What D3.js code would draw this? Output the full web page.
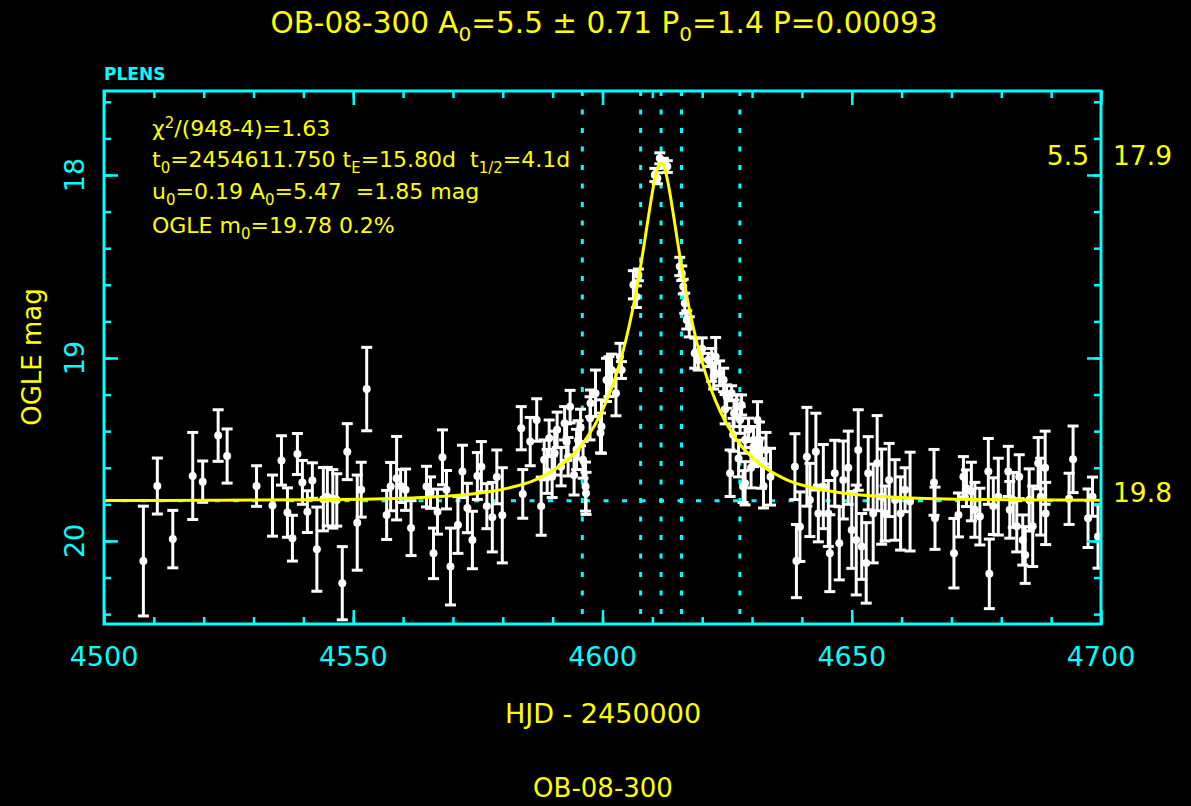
<!DOCTYPE html>
<html><head><meta charset="utf-8">
<script src="https://cdn.jsdelivr.net/npm/d3@7"></script>
<style>body{margin:0;background:#000;} svg{display:block;}</style>
</head><body><svg id="c" width="1191" height="806"></svg>
<script>
// ---- data ----
const hjd = [4507.9,4510.7,4513.8,4517.8,4519.8,4522.9,4524.7,4530.6,4533.8,4535.6,
4536.8,4537.8,4538.8,4539.8,4540.8,4541.8,4542.7,4544.0,4544.8,4545.9,4546.7,4547.8,4548.8,4550.8,4551.6,4552.7,
4556.7,4557.5,4558.7,4559.5,4560.5,4561.6,4564.7,4565.5,4566.1,4566.9,4567.9,4568.7,4569.5,
4571.0,4571.9,4572.9,4573.9,4574.9,4575.7,4576.8,4577.9,4578.8,4579.9,4583.7,4584.0,4585.5,4586.8,4587.7,4588.3,
4589.3,4589.9,4590.9,4591.7,4592.4,4593.1,4593.5,4594.3,4595.1,4596.6,4597.6,4598.6,4599.6,4601.3,
4596.1,4596.7,4597.5,4599.8,4600.8,4601.8,4602.7,4603.5,4603.8,4606.2,4606.8,4607.2,
4610.5,4611.0,4611.5,4612.2,4613.0,4615.5,4615.9,4616.2,4616.5,4616.9,4617.4,4618.5,4619.2,
4621.2,4621.9,4622.7,4623.5,4624.3,4624.9,4625.6,4625.9,4626.4,4626.9,4627.6,4628.2,4628.6,4629.3,4630.3,4630.9,
4627.9,4628.6,4630.3,4631.1,4631.9,4632.8,4633.7,4638.6,4638.9,4639.6,4641.0,4641.6,4642.8,4643.3,4644.3,
4645.3,4645.6,4646.6,4647.5,4648.3,4649.3,4650.0,4650.9,4651.3,4652.0,4652.9,4653.3,4654.3,4655.1,4656.0,
4656.7,4657.5,4658.7,4659.8,4660.7,4661.7,4666.5,4666.7,4670.5,4671.4,4672.4,4673.0,4674.0,4674.7,4675.7,
4677.4,4677.6,4678.4,4679.4,4681.4,4681.7,4682.4,4683.1,4683.6,4684.3,4684.8,4685.6,4686.3,4687.4,4687.9,
4688.8,4688.9,4693.6,4694.4,4697.4,4698.3,4699.4,
4620.0,4622.3,4624.6,4626.2,4627.3,4629.8,4631.5,4632.3,4595.6,4594.8,4592.8,4590.4,4588.9];
const mag = [20.11,19.70,19.99,19.645,19.676,19.424,19.536,19.70,19.807,19.56,
19.845,19.985,19.525,19.68,19.84,19.67,20.045,19.772,19.758,19.77,19.776,20.231,19.512,19.90,19.72,19.17,
19.858,19.703,19.657,19.70,19.72,19.93,19.703,19.736,20.068,19.84,19.543,19.72,20.14,
19.913,19.62,19.82,19.995,19.645,19.594,19.81,19.87,19.65,19.86,19.384,19.743,19.457,19.339,19.81,19.557,
19.439,19.649,19.393,19.594,19.357,19.54,19.266,19.64,19.448,19.703,19.248,19.193,19.41,19.102,
19.557,19.74,19.33,19.375,19.12,19.066,19.193,18.993,19.066,18.60,18.665,18.546,
18.0,18.018,17.909,17.936,17.954,18.50,18.537,18.61,18.701,18.792,18.83,18.974,19.011,
19.011,19.038,18.993,19.084,19.12,19.211,19.63,19.193,19.302,19.266,19.339,19.703,19.448,19.393,19.448,19.52,
19.257,19.685,19.485,19.339,19.575,19.503,19.649,19.594,20.11,19.922,19.54,19.776,19.512,19.85,19.703,
19.85,20.067,19.63,20.013,19.667,19.60,19.94,19.995,19.503,20.03,20.12,19.63,19.85,19.575,19.758,
19.85,19.667,19.776,19.85,19.72,19.785,19.68,19.876,20.067,19.858,19.649,19.712,19.73,19.83,19.867,
19.62,20.18,19.81,19.758,19.62,19.83,19.776,19.92,19.649,19.995,20.077,19.776,19.92,19.575,19.758,
19.60,19.85,19.77,19.554,19.876,19.758,19.976,
18.95,19.10,19.28,19.42,19.55,19.60,19.45,19.70,19.38,19.50,19.46,19.52,19.62];
const magErr = [0.30,0.153,0.157,0.238,0.113,0.141,0.148,0.111,0.167,0.135,
0.135,0.125,0.112,0.12,0.114,0.097,0.23,0.173,0.16,0.16,0.143,0.2,0.153,0.26,0.15,0.228,
0.134,0.132,0.228,0.09,0.113,0.15,0.111,0.086,0.138,0.123,0.15,0.105,0.21,
0.155,0.143,0.135,0.157,0.128,0.137,0.123,0.19,0.147,0.26,0.118,0.133,0.132,0.116,0.159,0.109,
0.1,0.114,0.097,0.105,0.091,0.105,0.089,0.109,0.105,0.134,0.073,0.127,0.109,0.109,
0.1,0.115,0.118,0.146,0.118,0.087,0.123,0.073,0.046,0.077,0.059,0.032,
0.036,0.03,0.03,0.027,0.032,0.05,0.04,0.04,0.055,0.05,0.055,0.082,0.055,
0.036,0.09,0.105,0.068,0.064,0.064,0.127,0.041,0.073,0.064,0.073,0.087,0.073,0.064,0.073,0.07,
0.055,0.118,0.109,0.1,0.137,0.096,0.155,0.18,0.2,0.19,0.27,0.2,0.21,0.155,0.23,
0.18,0.21,0.18,0.2,0.213,0.2,0.21,0.3,0.22,0.18,0.22,0.2,0.27,0.26,0.26,
0.15,0.2,0.22,0.2,0.12,0.27,0.18,0.17,0.19,0.12,0.11,0.1,0.16,0.15,0.155,
0.18,0.19,0.155,0.21,0.137,0.155,0.15,0.14,0.12,0.137,0.155,0.17,0.22,0.14,0.21,
0.2,0.17,0.14,0.182,0.16,0.107,0.173,
0.06,0.07,0.08,0.09,0.1,0.11,0.1,0.12,0.1,0.11,0.1,0.12,0.12];

// model curve values
const modelHjd = [4500,4521.75,4541.75,4561.75,4571.75,4576.75,4581.75,4586.75,4591.75,4593.75,4596.75,4599.75,4601.75,
4602.75,4603.75,4604.75,4605.75,4606.75,4607.75,4608.25,4608.75,4609.25,4609.75,4610.25,4610.75,4611.25,4611.75,
4612.25,4612.75,4613.25,4613.75,4614.25,4614.75,4615.25,4615.75,4616.75,4617.75,4618.75,4619.75,4620.75,4621.75,
4623.75,4626.75,4629.75,4631.75,4636.75,4641.75,4646.75,4651.75,4661.75,4681.75,4700];
const modelMag = [19.779,19.778,19.775,19.765,19.749,19.733,19.707,19.663,19.584,19.538,19.441,19.300,19.170,
19.091,19.000,18.895,18.775,18.638,18.482,18.398,18.310,18.222,18.136,18.057,17.993,17.949,17.934,
17.949,17.993,18.057,18.136,18.222,18.310,18.398,18.482,18.638,18.775,18.895,19.000,19.091,19.170,
19.300,19.441,19.538,19.584,19.663,19.707,19.733,19.749,19.765,19.775,19.778];

const markerHjd = [4595.95, 4607.65, 4611.75, 4615.85, 4627.55];
const baselineMag = 19.78;
const xTickValues = [4500, 4550, 4600, 4650, 4700];
const yTickValues = [18, 19, 20];

// ---- layout ----
const CY = "#00ffff", YL = "#ffff00", WH = "#ffffff";
const L = 104, R = 1101, T = 91, B = 624;
const x = d3.scaleLinear().domain([4500, 4700]).range([L, R]);
const y = d3.scaleLinear().domain([17.541, 20.454]).range([T, B]);
const svg = d3.select("#c");
svg.append("rect").attr("width",1191).attr("height",806).attr("fill","#000");
const F = "DejaVu Sans, Liberation Sans, sans-serif";

svg.append("defs").append("clipPath").attr("id","clip")
  .append("rect").attr("x",L).attr("y",T).attr("width",R-L).attr("height",B-T);

// dotted reference lines
const ref = svg.append("g").attr("clip-path","url(#clip)")
  .attr("stroke",CY).attr("stroke-width",3).attr("stroke-dasharray","5,13.5");
ref.selectAll("line.v").data(markerHjd).join("line").attr("class","v")
  .attr("x1",d=>x(d)).attr("x2",d=>x(d)).attr("y1",T).attr("y2",B);
ref.append("line").attr("x1",L).attr("x2",R).attr("y1",y(baselineMag)).attr("y2",y(baselineMag));

// data with error bars
const pts = hjd.map((t,i)=>({t, m:mag[i], e:magErr[i]}));
const dg = svg.append("g").attr("clip-path","url(#clip)");
const g = dg.selectAll("g").data(pts).join("g");
const SW = 3;
g.append("line").attr("x1",d=>x(d.t)).attr("x2",d=>x(d.t))
  .attr("y1",d=>y(d.m-d.e)).attr("y2",d=>y(d.m+d.e)).attr("stroke",WH).attr("stroke-width",SW);
g.append("line").attr("x1",d=>x(d.t)-5.5).attr("x2",d=>x(d.t)+5.5)
  .attr("y1",d=>y(d.m-d.e)).attr("y2",d=>y(d.m-d.e)).attr("stroke",WH).attr("stroke-width",SW);
g.append("line").attr("x1",d=>x(d.t)-5.5).attr("x2",d=>x(d.t)+5.5)
  .attr("y1",d=>y(d.m+d.e)).attr("y2",d=>y(d.m+d.e)).attr("stroke",WH).attr("stroke-width",SW);
g.append("circle").attr("cx",d=>x(d.t)).attr("cy",d=>y(d.m)).attr("r",4).attr("fill",WH);

// model curve
const line = d3.line().x((d,i)=>x(modelHjd[i])).y(d=>y(d)).curve(d3.curveMonotoneX);
svg.append("path").attr("clip-path","url(#clip)").attr("d",line(modelMag))
  .attr("fill","none").attr("stroke",YL).attr("stroke-width",3);

// axes (ticks inward)
function styleAxis(sel){
  sel.select(".domain").remove();
  sel.selectAll("line").attr("stroke",CY).attr("stroke-width",2.5);
  sel.selectAll("text").remove();
}
svg.append("g").attr("transform",`translate(0,${B})`).call(d3.axisBottom(x).tickValues(xTickValues).tickSize(-14).tickSizeOuter(0)).call(styleAxis);
svg.append("g").attr("transform",`translate(0,${B})`).call(d3.axisBottom(x).ticks(20).tickSize(-7).tickSizeOuter(0)).call(styleAxis);
svg.append("g").attr("transform",`translate(0,${T})`).call(d3.axisTop(x).tickValues(xTickValues).tickSize(-14).tickSizeOuter(0)).call(styleAxis);
svg.append("g").attr("transform",`translate(0,${T})`).call(d3.axisTop(x).ticks(20).tickSize(-7).tickSizeOuter(0)).call(styleAxis);
svg.append("g").attr("transform",`translate(${L},0)`).call(d3.axisLeft(y).tickValues(yTickValues).tickSize(-14).tickSizeOuter(0)).call(styleAxis);
svg.append("g").attr("transform",`translate(${L},0)`).call(d3.axisLeft(y).ticks(15).tickSize(-7).tickSizeOuter(0)).call(styleAxis);
svg.append("g").attr("transform",`translate(${R},0)`).call(d3.axisRight(y).tickValues(yTickValues).tickSize(-14).tickSizeOuter(0)).call(styleAxis);
svg.append("g").attr("transform",`translate(${R},0)`).call(d3.axisRight(y).ticks(15).tickSize(-7).tickSizeOuter(0)).call(styleAxis);

svg.append("rect").attr("x",L).attr("y",T).attr("width",R-L).attr("height",B-T)
  .attr("fill","none").attr("stroke",CY).attr("stroke-width",3);

// tick labels
svg.append("g").selectAll("text").data(xTickValues).join("text")
  .attr("x",d=>x(d)).attr("y",666).attr("text-anchor","middle")
  .attr("font-family",F).attr("font-size",27).attr("fill",CY).text(d=>d);
svg.append("g").selectAll("text").data(yTickValues).join("text")
  .attr("transform",d=>`translate(84,${y(d)}) rotate(-90)`).attr("text-anchor","middle")
  .attr("font-family",F).attr("font-size",27).attr("fill",CY).text(d=>d);

// axis titles
svg.append("text").attr("x",603).attr("y",723).attr("text-anchor","middle")
  .attr("font-family",F).attr("font-size",27).attr("fill",YL).text("HJD - 2450000");
svg.append("text").attr("transform","translate(41,357) rotate(-90)").attr("text-anchor","middle")
  .attr("font-family",F).attr("font-size",26).attr("fill",YL).text("OGLE mag");
svg.append("text").attr("x",603).attr("y",797).attr("text-anchor","middle")
  .attr("font-family",F).attr("font-size",26).attr("fill",YL).text("OB-08-300");
svg.append("text").attr("x",104).attr("y",80)
  .attr("font-family",F).attr("font-size",17).attr("font-weight","bold").attr("fill",CY).text("PLENS");

// text with sub/superscripts
function richText(parent, xx, yy, size, anchor, parts){
  const t = parent.append("text").attr("x",xx).attr("y",yy).attr("text-anchor",anchor)
    .attr("font-family",F).attr("font-size",size).attr("fill",YL);
  let shift = 0;
  parts.forEach(p=>{
    const target = p.sub ? size*0.28 : (p.sup ? -size*0.38 : 0);
    const ts = t.append("tspan").attr("dy", target-shift).text(p.s);
    if(p.sub||p.sup) ts.attr("font-size", size*0.68);
    shift = target;
  });
  return t;
}
richText(svg, 604, 33, 29.5, "middle", [
  {s:"OB-08-300 A"},{s:"0",sub:1},{s:"=5.5 ± 0.71 P"},{s:"0",sub:1},{s:"=1.4 P=0.00093"}]);

// annotations
const AX = 152, AS = 22;
richText(svg, AX, 136, AS, "start", [{s:"χ"},{s:"2",sup:1},{s:"/(948-4)=1.63"}]);
richText(svg, AX, 167, AS, "start", [{s:"t"},{s:"0",sub:1},{s:"=2454611.750 t"},{s:"E",sub:1},{s:"=15.80d\u00a0 t"},{s:"1/2",sub:1},{s:"=4.1d"}]);
richText(svg, AX, 199, AS, "start", [{s:"u"},{s:"0",sub:1},{s:"=0.19 A"},{s:"0",sub:1},{s:"=5.47\u00a0 =1.85 mag"}]);
richText(svg, AX, 233, AS, "start", [{s:"OGLE m"},{s:"0",sub:1},{s:"=19.78 0.2%"}]);

// right-hand labels
svg.append("text").attr("x",1089).attr("y",165).attr("text-anchor","end")
  .attr("font-family",F).attr("font-size",26.5).attr("fill",YL).text("5.5");
svg.append("text").attr("x",1113).attr("y",165)
  .attr("font-family",F).attr("font-size",26.5).attr("fill",YL).text("17.9");
svg.append("text").attr("x",1113).attr("y",502)
  .attr("font-family",F).attr("font-size",26.5).attr("fill",YL).text("19.8");
</script></body></html>
